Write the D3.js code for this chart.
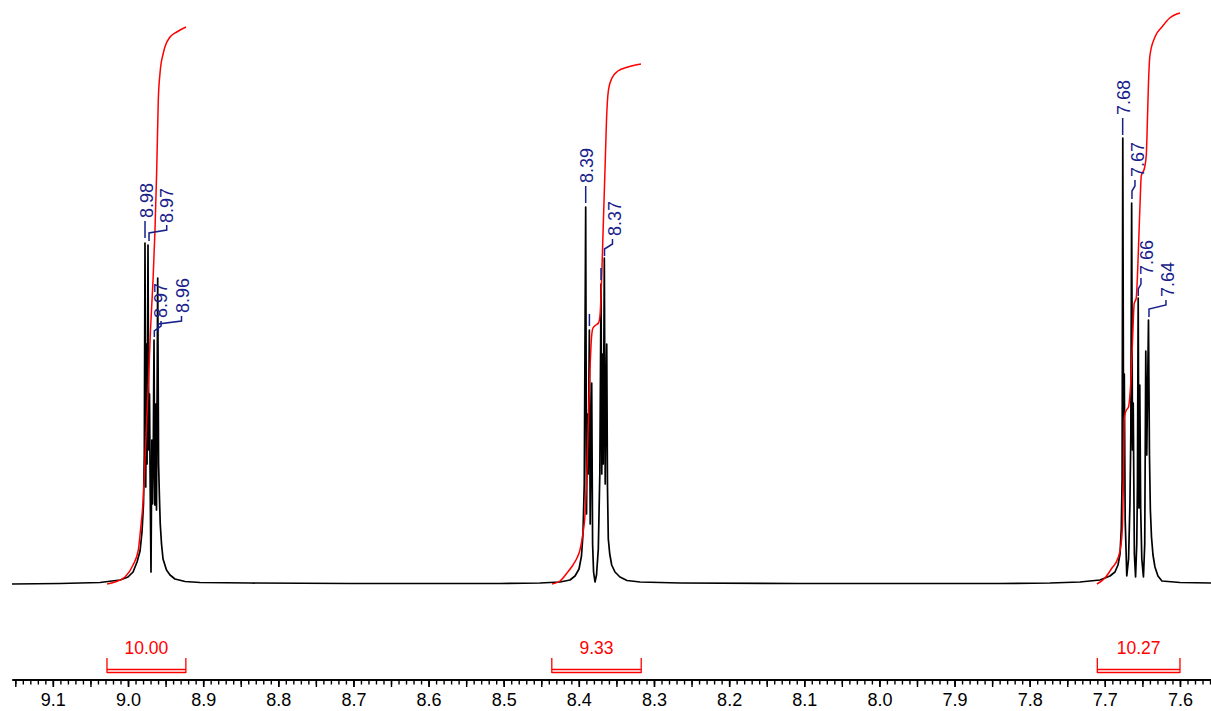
<!DOCTYPE html>
<html><head><meta charset="utf-8">
<script src="https://cdn.jsdelivr.net/npm/d3@7"></script>
<style>html,body{margin:0;padding:0;background:#fff;} svg{display:block;font-family:'Liberation Sans',Arial,sans-serif;}</style>
</head><body><svg id="c" width="1211" height="711"></svg>
<script>
// ---------- DATA ----------
const ppmDomain = [9.1544, 7.5587];
const intensityDomain = [0, 584];

// spectrum trace: [ppm, intensity]
const spectrum = [
 [9.1544,0],[9.0905,0.5],[9.0373,1.5],[9.0106,4],[9.0000,7],[8.9933,12],[8.9880,22],[8.9840,33],[8.9814,52],[8.9794,80],[8.9783,130],
 [8.9774,341],[8.9764,97],[8.9755,240],[8.9747,120],[8.9734,339],[8.9723,134],[8.9714,190],[8.9705,97],[8.9694,12],[8.9683,144],
 [8.9673,80],[8.9665,120],[8.9654,244],[8.9643,79],[8.9633,180],[8.9621,74],[8.9605,306],[8.9593,120],[8.9583,90],[8.9571,60],
 [8.9554,40],[8.9534,25],[8.9488,14],[8.9441,9],[8.9375,5],[8.9241,2.5],[8.9042,1.5],[8.8376,1],[8.7046,0.5],[8.5715,0.5],
 [8.5049,0.5],[8.4517,1],[8.4251,2],[8.4118,4],[8.4051,8],[8.3998,15],[8.3965,28],[8.3945,50],[8.3928,100],[8.3909,377],
 [8.3898,70],[8.3886,170],[8.3876,110],[8.3860,254],[8.3849,60],[8.3840,130],[8.3829,201],[8.3817,40],[8.3804,12],[8.3785,2],
 [8.3765,9],[8.3741,35],[8.3721,110],[8.3705,300],[8.3695,110],[8.3684,230],[8.3675,120],[8.3661,326],[8.3649,100],[8.3640,180],
 [8.3629,240],[8.3619,97],[8.3608,45],[8.3589,30],[8.3563,19],[8.3519,12],[8.3453,7],[8.3359,3.5],[8.3186,2],[8.2654,1],
 [8.1057,0.5],[7.8396,0.5],
 [7.7730,1],[7.7331,2],[7.7065,4],[7.6932,8],[7.6865,12],[7.6825,19],[7.6798,30],[7.6781,55],[7.6770,105],[7.6761,446],
 [7.6750,124],[7.6741,210],[7.6729,64],[7.6708,8],[7.6684,25],[7.6666,80],[7.6654,150],[7.6643,381],[7.6632,134],[7.6622,181],
 [7.6607,30],[7.6591,7],[7.6575,40],[7.6566,100],[7.6556,286],[7.6546,76],[7.6535,199],[7.6523,76],[7.6508,25],[7.6486,7],
 [7.6469,40],[7.6455,233],[7.6442,129],[7.6419,264],[7.6406,129],[7.6394,74],[7.6379,47],[7.6359,29],[7.6333,17],[7.6293,8],
 [7.6240,3],[7.6000,1.5],[7.5587,1]
];

// integral curves: [ppm, cumulative value]
const integral1 = [
 [9.0279,0],[9.0173,2],[9.0040,7],[8.9933,19],[8.9863,34],[8.9834,54],[8.9796,87],[8.9774,124],[8.9751,164],[8.9727,204],
 [8.9701,254],[8.9667,304],[8.9641,354],[8.9618,414],[8.9597,484],[8.9574,511],[8.9530,531],[8.9441,547],[8.9352,552],[8.9228,557]
];
const integral2 = [
 [8.4357,0],[8.4251,3],[8.4158,11],[8.4078,19],[8.4025,26],[8.3985,34],[8.3945,51],[8.3918,69],[8.3896,107],[8.3874,161],
 [8.3852,214],[8.3832,246],[8.3812,256],[8.3772,259],[8.3739,261],[8.3719,268],[8.3696,307],[8.3675,359],[8.3652,414],[8.3632,464],
 [8.3606,494],[8.3559,506],[8.3479,513],[8.3346,517],[8.3173,520]
];
const integral3 = [
 [7.7105,0],[7.6998,6],[7.6905,16],[7.6825,26],[7.6785,39],[7.6765,59],[7.6752,104],[7.6741,166],[7.6719,173],[7.6685,177],
 [7.6666,189],[7.6646,214],[7.6626,254],[7.6610,280],[7.6582,286],[7.6559,322],[7.6532,379],[7.6515,408],[7.6472,416],[7.6448,429],
 [7.6435,459],[7.6419,501],[7.6399,529],[7.6333,547],[7.6240,557],[7.6137,566],[7.6000,571]
];
const integralRanges = [[9.028, 8.923], [8.436, 8.317], [7.710, 7.600]];
const integralValues = ["10.00", "9.33", "10.27"];

// peak labels
const peakLabels = ["8.98", "8.97", "8.97", "8.96", "8.39", "", "", "8.37", "7.68", "7.67", "7.66", "7.64"];
// annotation layout in data coordinates: text centre ppm, text bottom intensity, leader polyline
const labelLayout = [
 {tp: 8.97565, th: 366, leader: [[8.97738,363],[8.97738,346]]},
 {tp: 8.94850, th: 361, leader: [[8.94850,359],[8.94850,354],[8.97205,351],[8.97205,343]]},
 {tp: 8.95608, th: 266, leader: [[8.95608,263],[8.95608,258],[8.96500,253],[8.96500,247]]},
 {tp: 8.92681, th: 271, leader: [[8.92880,268],[8.92880,263],[8.95968,260],[8.95968,252]]},
 {tp: 8.38983, th: 401, leader: [[8.39089,398],[8.39089,381]]},
 {tp: null, th: null, leader: [[8.38596,270],[8.38596,258]]},
 {tp: null, th: null, leader: [[8.37052,316],[8.37052,304]]},
 {tp: 8.35190, th: 348, leader: [[8.35523,345],[8.35523,340],[8.36588,335],[8.36588,328]]},
 {tp: 7.67452, th: 469, leader: [[7.67625,466],[7.67625,449]]},
 {tp: 7.65589, th: 407, leader: [[7.65988,404],[7.65988,398],[7.66388,393],[7.66388,385]]},
 {tp: 7.64457, th: 309, leader: [[7.65190,306],[7.65190,300],[7.65550,295],[7.65550,288]]},
 {tp: 7.61597, th: 287, leader: [[7.61863,284],[7.61863,279],[7.64124,275],[7.64124,267]]}
];

const tickLabels = ["9.1","9.0","8.9","8.8","8.7","8.6","8.5","8.4","8.3","8.2","8.1","8.0","7.9","7.8","7.7","7.6"];

// ---------- DRAW ----------
const svg = d3.select("#c");
const x = d3.scaleLinear().domain(ppmDomain).range([12, 1211]);
const y = d3.scaleLinear().domain(intensityDomain).range([584, 0]);
const BLUE = "#17208a";

const line = d3.line().x(d => x(d[0])).y(d => y(d[1]));
const smooth = d3.line().x(d => x(d[0])).y(d => y(d[1])).curve(d3.curveMonotoneX);

svg.append("path").datum(spectrum).attr("d", line)
  .attr("fill", "none").attr("stroke", "#000").attr("stroke-width", 1.7).attr("stroke-linejoin", "round");

[integral1, integral2, integral3].forEach(c => {
  svg.append("path").datum(c).attr("d", smooth)
    .attr("fill", "none").attr("stroke", "#ff0000").attr("stroke-width", 1.5);
});

// peak labels
labelLayout.forEach((L, i) => {
  svg.append("path").datum(L.leader).attr("d", line)
    .attr("fill", "none").attr("stroke", BLUE).attr("stroke-width", 1.5);
  if (L.tp !== null && peakLabels[i]) {
    svg.append("text")
      .attr("transform", `translate(${x(L.tp)},${y(L.th)}) rotate(-90)`)
      .attr("dy", "0.35em").attr("text-anchor", "start")
      .attr("font-size", 18).attr("fill", BLUE).text(peakLabels[i]);
  }
});

// integral brackets
integralRanges.forEach((r, i) => {
  const x1 = x(r[0]), x2 = x(r[1]);
  const g = svg.append("g").attr("stroke", "#ff0000").attr("stroke-width", 1.3).attr("fill", "none");
  g.append("path").attr("d", `M${x1},658V673M${x2},658V673M${x1},669.5H${x2}M${x1},672.5H${x2}`);
  svg.append("text").attr("x", (x1 + x2) / 2).attr("y", 654).attr("text-anchor", "middle")
    .attr("font-size", 17.5).attr("fill", "#ff0000").text(integralValues[i]);
});

// axis
const axisY = 679.5;
const minorVals = d3.range(756, 916).map(v => v / 100);
const majorVals = d3.range(152, 184).map(v => v * 5 / 100);
const labelVals = tickLabels.map(Number);

const gMinor = svg.append("g").attr("transform", `translate(0,${axisY})`)
  .call(d3.axisBottom(x).tickValues(minorVals).tickSize(5).tickSizeOuter(0).tickFormat(""));
const gMajor = svg.append("g").attr("transform", `translate(0,${axisY})`)
  .call(d3.axisBottom(x).tickValues(majorVals).tickSize(7.5).tickSizeOuter(0).tickFormat(""));
const gLab = svg.append("g").attr("transform", `translate(0,${axisY})`)
  .call(d3.axisBottom(x).tickValues(labelVals).tickSize(7.5).tickSizeOuter(0).tickPadding(6)
    .tickFormat((d, i) => tickLabels[i]));
[gMinor, gMajor, gLab].forEach(g => {
  g.select(".domain").attr("stroke", "#000").attr("stroke-width", 1.6);
  g.selectAll(".tick line").attr("stroke", "#000").attr("stroke-width", 1.4);
});
gLab.selectAll(".tick text").attr("font-size", 18).attr("fill", "#000")
  .attr("font-family", "'Liberation Sans',Arial,sans-serif");
</script></body></html>
